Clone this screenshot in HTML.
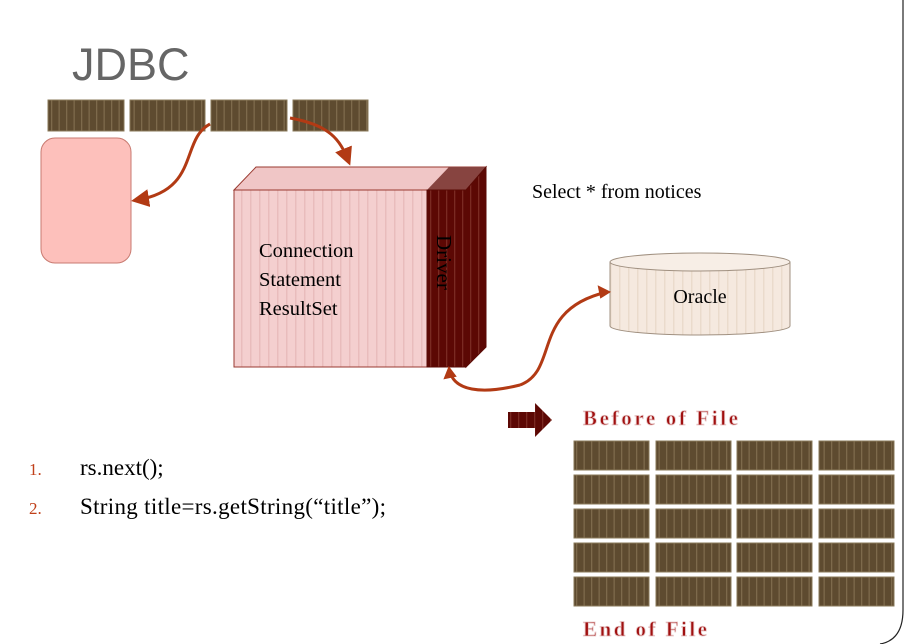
<!DOCTYPE html>
<html><head><style>body{margin:0;background:#fff}svg{display:block}</style></head><body>
<svg width="909" height="644" viewBox="0 0 909 644" xmlns="http://www.w3.org/2000/svg" font-family="Liberation Serif, serif">
<defs>
<pattern id="st" width="7.5" height="10" patternUnits="userSpaceOnUse"><rect width="7.5" height="10" fill="#5e4b30"/><rect x="6" width="1.3" height="10" fill="#7d6a4c"/></pattern>
<pattern id="pk" width="9" height="10" patternUnits="userSpaceOnUse"><rect width="9" height="10" fill="#f4cfcf"/><rect x="7" width="1.5" height="10" fill="#e9bcbc"/></pattern>
<pattern id="dr" width="8" height="10" patternUnits="userSpaceOnUse"><rect width="8" height="10" fill="#5c0804"/><rect x="6" width="1.3" height="10" fill="#7a2a22"/></pattern>
<pattern id="cr" width="9" height="10" patternUnits="userSpaceOnUse"><rect width="9" height="10" fill="#f5e9df"/><rect x="7" width="1.5" height="10" fill="#eadbcc"/></pattern>
<marker id="ah" markerWidth="6" markerHeight="6" refX="4" refY="3" orient="auto" markerUnits="strokeWidth"><path d="M0,0 L6,3 L0,6 z" fill="#b23a14"/></marker>
</defs>
<path d="M903,0 L903,610 Q903,640 880,644" fill="none" stroke="#222" stroke-width="1.2"/>
<text x="72" y="80" font-family="Liberation Sans, sans-serif" font-size="45" fill="#666">JDBC</text>
<g stroke="#8a7a5a" stroke-width="1">
<rect x="48" y="100" width="76" height="31" fill="url(#st)"/>
<rect x="130" y="100" width="75" height="31" fill="url(#st)"/>
<rect x="211" y="100" width="76" height="31" fill="url(#st)"/>
<rect x="293" y="100" width="75" height="31" fill="url(#st)"/>
</g>
<rect x="41" y="138" width="90" height="125" rx="14" fill="#fdc0bb" stroke="#c87a70"/>
<path d="M210,124 C180,140 200,190 137,200" fill="none" stroke="#b23a14" stroke-width="3" marker-end="url(#ah)"/>
<path d="M290,118 C330,125 340,140 348,160" fill="none" stroke="#b23a14" stroke-width="3" marker-end="url(#ah)"/>
<path d="M234,190 L256,167 L486,167 L466,190 Z" fill="#f0c6c6" stroke="#9a3a30"/>
<path d="M427,190 L449,167 L486,167 L466,190 Z" fill="#874440"/>
<rect x="234" y="190" width="193" height="177" fill="url(#pk)" stroke="#9a3a30"/>
<rect x="427" y="190" width="39" height="177" fill="url(#dr)" stroke="#5a0a05"/>
<path d="M466,190 L486,167 L486,347 L466,367 Z" fill="url(#dr)" stroke="#5a0a05"/>
<text x="259" y="257" font-size="20.5">Connection</text>
<text x="259" y="286" font-size="20.5">Statement</text>
<text x="259" y="315" font-size="20.5">ResultSet</text>
<text transform="translate(437,235) rotate(90)" font-size="21">Driver</text>
<text x="532" y="198" font-size="20">Select * from notices</text>
<path d="M610,262 L610,326 A90,9 0 0 0 790,326 L790,262 Z" fill="url(#cr)" stroke="#a09080"/>
<ellipse cx="700" cy="262" rx="90" ry="9" fill="#f7eee6" stroke="#a09080"/>
<text x="700" y="303" font-size="20" text-anchor="middle">Oracle</text>
<path d="M520,385 C480,395 455,390 450,372 M520,385 C560,370 530,310 607,292" fill="none" stroke="#b23a14" stroke-width="3"/>
<path d="M609,292 l-10,-5 l2,10z M449,368 l-4,10 l10,-2z" fill="#b23a14" stroke="#b23a14" stroke-width="2"/>
<path d="M508,412 L535,412 L535,403 L552,420 L535,437 L535,428 L508,428 Z" fill="url(#dr)"/>
<g font-weight="bold" font-size="21" fill="#a01010" stroke="#e8c8c8" stroke-width="0.8">
<text x="583" y="425" textLength="155">Before  of  File</text>
<text x="583" y="636" textLength="124">End  of  File</text>
</g>
<g stroke="#8a7a5a" stroke-width="1" fill="url(#st)">
<rect x="574" y="441" width="75" height="29"/><rect x="656" y="441" width="75" height="29"/><rect x="737" y="441" width="75" height="29"/><rect x="819" y="441" width="75" height="29"/>
<rect x="574" y="475" width="75" height="29"/><rect x="656" y="475" width="75" height="29"/><rect x="737" y="475" width="75" height="29"/><rect x="819" y="475" width="75" height="29"/>
<rect x="574" y="509" width="75" height="29"/><rect x="656" y="509" width="75" height="29"/><rect x="737" y="509" width="75" height="29"/><rect x="819" y="509" width="75" height="29"/>
<rect x="574" y="543" width="75" height="29"/><rect x="656" y="543" width="75" height="29"/><rect x="737" y="543" width="75" height="29"/><rect x="819" y="543" width="75" height="29"/>
<rect x="574" y="577" width="75" height="29"/><rect x="656" y="577" width="75" height="29"/><rect x="737" y="577" width="75" height="29"/><rect x="819" y="577" width="75" height="29"/>
</g>
<text x="29" y="475" font-size="17" fill="#c0401a">1.</text>
<text x="80" y="475" font-size="23">rs.next();</text>
<text x="29" y="514" font-size="17" fill="#c0401a">2.</text>
<text x="80" y="514" font-size="23" textLength="306">String title=rs.getString(“title”);</text>
</svg>
</body></html>
